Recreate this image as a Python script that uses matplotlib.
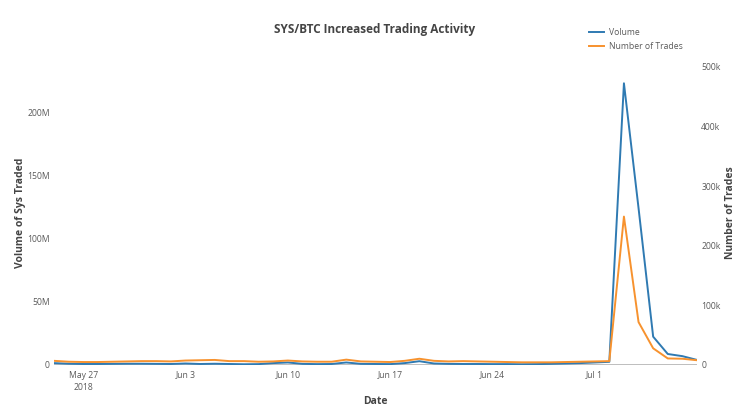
import matplotlib
matplotlib.use("Agg")
import matplotlib.pyplot as plt
import pandas as pd

plt.rcParams['font.family'] = ['Open Sans', 'DejaVu Sans']

dates = pd.date_range("2018-05-25", "2018-07-08", freq="D")

# Volume of SYS traded (millions)
volume_m = [1.5, 1.0, 0.8, 0.8, 0.9, 1.0, 1.0,
            0.9, 0.8, 1.2, 0.8, 1.0, 0.8, 0.6, 0.7, 1.5, 2.0,
            0.9, 0.7, 0.8, 2.0, 0.9, 0.8, 0.7, 1.5, 3.0, 1.2,
            0.9, 0.8, 0.8, 0.7, 0.7, 0.6, 0.7, 0.9, 1.2, 1.5,
            2.0, 2.5, 222.7, 124.0, 22.4, 8.7, 7.0, 4.0]

# Number of trades (thousands)
trades_k = [7.0, 5.5, 5.0, 5.0, 5.5, 6.0, 6.5,
            6.5, 6.0, 7.5, 8.0, 8.5, 6.5, 6.5, 5.5, 6.0, 7.5,
            6.0, 5.5, 5.5, 9.0, 6.0, 5.5, 5.0, 7.0, 10.5, 7.0,
            6.0, 6.5, 6.0, 5.5, 5.0, 4.5, 4.5, 4.5, 5.0, 5.5,
            6.0, 6.5, 249.0, 72.0, 28.0, 11.0, 10.5, 8.0]

tick_dates = ["2018-05-27", "2018-06-03", "2018-06-10", "2018-06-17", "2018-06-24", "2018-07-01"]
tick_labels = ["May 27\n2018", "Jun 3", "Jun 10", "Jun 17", "Jun 24", "Jul 1"]

left_ticks = [0, 50, 100, 150, 200]
left_labels = ["0", "50M", "100M", "150M", "200M"]
right_ticks = [0, 100, 200, 300, 400, 500]
right_labels = ["0", "100k", "200k", "300k", "400k", "500k"]

W, H = 750, 420
fig = plt.figure(figsize=(W / 100, H / 100), dpi=100)
L, R, T, B = 54, 697, 60, 365
ax = fig.add_axes([L / W, 1 - B / H, (R - L) / W, (B - T) / H])
ax2 = ax.twinx()

blue = "#2f7ab2"
orange = "#f7922e"
tick_color = "#5a5a5a"
title_color = "#444444"

ax.axhline(0, color="#aaaaaa", lw=1.8, zorder=1)
ax.plot(dates, volume_m, color=blue, lw=1.4, zorder=3, label="Volume")
ax2.plot(dates, trades_k, color=orange, lw=1.4, zorder=3, label="Number of Trades")

ax.set_xlim(dates[0], dates[-1])
ax.set_ylim(0, (B - T) / 1.265)
ax2.set_ylim(0, (B - T) / 0.596)

ax.set_xticks(pd.to_datetime(tick_dates))
ax.set_xticklabels(tick_labels, linespacing=1.5)
ax.set_yticks(left_ticks)
ax.set_yticklabels(left_labels)
ax2.set_yticks(right_ticks)
ax2.set_yticklabels(right_labels)

for a in (ax, ax2):
    for s in a.spines.values():
        s.set_visible(False)
    a.tick_params(length=0, labelsize=6.2, colors=tick_color, pad=3)
ax.tick_params(axis="x", pad=4)

ax.set_xlabel("Date", fontsize=7.5, fontweight="bold", color=title_color, labelpad=3)
ax.set_ylabel("Volume of Sys Traded", fontsize=7.5, fontweight="bold", color=title_color)
ax2.set_ylabel("Number of Trades", fontsize=7.5, fontweight="bold", color=title_color)
ax.yaxis.set_label_coords((26 - L) / (R - L), 0.5)
ax2.yaxis.set_label_coords((725 - L) / (R - L), 0.5)

fig.text(375 / W, 1 - 30 / H, "SYS/BTC Increased Trading Activity", ha="center", va="center",
         fontsize=8.5, fontweight="bold", color=title_color)

h1, l1 = ax.get_legend_handles_labels()
h2, l2 = ax2.get_legend_handles_labels()
fig.legend(h1 + h2, l1 + l2, loc="upper left", bbox_to_anchor=(589 / W, 1 - 28 / H),
           frameon=False, fontsize=6.2, labelcolor=tick_color, handlelength=1.7,
           handletextpad=0.6, labelspacing=0.55, borderaxespad=0, borderpad=0)

fig.savefig("out.png", dpi=100)
